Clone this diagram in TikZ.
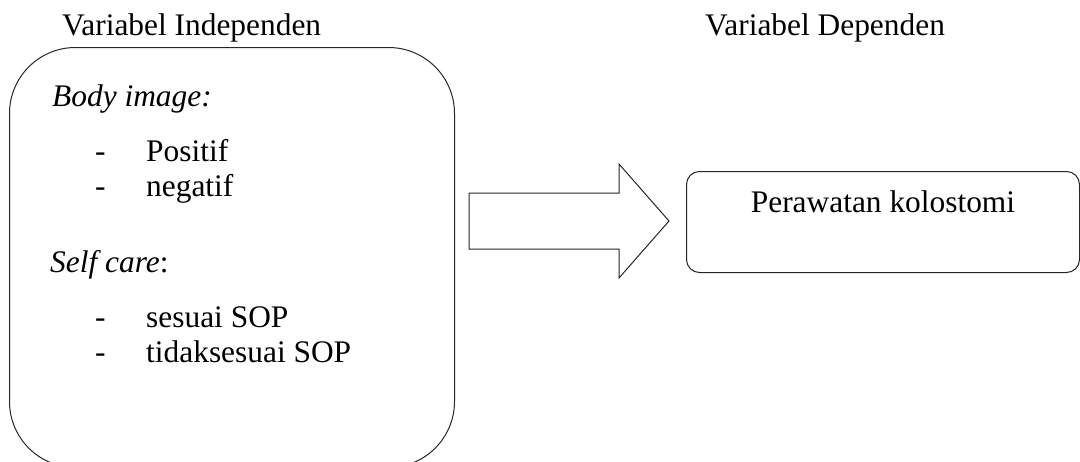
\documentclass[tikz,border=0pt]{standalone}
\usepackage{fontspec}
\setmainfont{Liberation Serif}
\begin{document}
\begin{tikzpicture}[x=1pt,y=-1pt,
  txt/.style={anchor=base west, inner sep=0pt, font=\fontsize{31.4}{36}\selectfont},
  boxline/.style={draw=black!85, line width=1pt}]
\clip (0,0) rectangle (1080,461);
% left box (extends below the page)
\node[boxline, rounded corners=66pt, minimum width=445pt, minimum height=420pt,
      anchor=north west, inner sep=0pt] (indep) at (9,47) {};
% right box
\node[boxline, rounded corners=13pt, minimum width=393pt, minimum height=101pt,
      anchor=north west, inner sep=0pt] (dep) at (686,171) {};
\node[txt, anchor=base] (deptext) at (dep.center |- 0,212) {Perawatan kolostomi};
% headings
\node[txt] (h1) at (62,35) {Variabel Independen};
\node[txt] (h2) at (705,35) {Variabel Dependen};
% list
\node[txt] (bi) at (52,106) {\itshape Body image:};
\node[txt] (d1) at (95,161) {-};
\node[txt] (p1) at (146,161) {Positif};
\node[txt] (d2) at (95,196) {-};
\node[txt] (p2) at (146,196) {negatif};
\node[txt] (sc) at (50,272) {\textit{Self care}:};
\node[txt] (d3) at (95,327) {-};
\node[txt] (p3) at (146,327) {sesuai SOP};
\node[txt] (d4) at (95,362) {-};
\node[txt] (p4) at (146,362) {tidaksesuai SOP};
% block arrow
\coordinate (tip) at (669,221);
\draw[boxline, line join=miter] (469,193) -- (619,193) -- (619,164) -- (tip)
  -- (619,278) -- (619,249) -- (469,249) -- cycle;
\end{tikzpicture}
\end{document}
